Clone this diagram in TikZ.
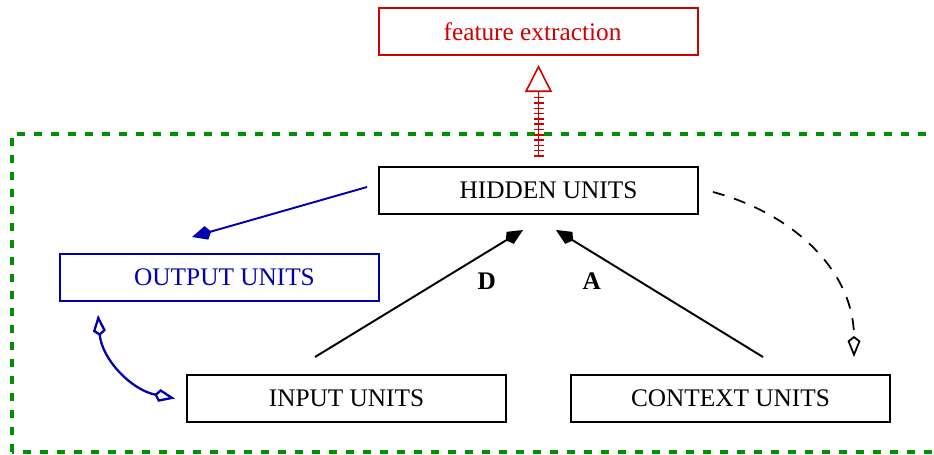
\documentclass[tikz,border=0pt]{standalone}
\usepackage{fontspec}
\setmainfont{Liberation Serif}
\usetikzlibrary{arrows.meta,positioning,decorations.markings}
\definecolor{featclr}{RGB}{208,0,0}
\definecolor{outclr}{RGB}{0,0,176}
\definecolor{grpclr}{RGB}{0,144,0}
\definecolor{unitclr}{RGB}{0,0,0}
\tikzset{
  ublk/.style={rectangle,draw=unitclr,line width=0.9pt,fill=white,
    minimum width=6.38cm,minimum height=0.94cm,inner sep=0pt,outer sep=0pt,
    font=\fontsize{14.4}{16}\selectfont,align=center},
  oblk/.style={ublk,draw=outclr,text=outclr},
  fblk/.style={ublk,draw=featclr,text=featclr},
  grpbox/.style={draw=grpclr,line width=1.9pt,dash pattern=on 0.16cm off 0.18cm},
  arr/.style={-{Kite[length=0.4cm,width=0.28cm,inset=0.1cm]},line width=1.1pt},
  oarr/.style={-{Kite[open,length=0.42cm,width=0.26cm,inset=0.1cm]},line width=1pt},
  barr/.style={{Kite[open,length=0.42cm,width=0.26cm,inset=0.1cm]}-{Kite[open,length=0.42cm,width=0.26cm,inset=0.1cm]},
    line width=1.3pt,color=outclr},
  darr/.style={oarr,dash pattern=on 0.24cm off 0.2cm},
  tick/.style={-,draw=featclr,line width=0.9pt},
  tarr/.style={-{Triangle[open,length=0.54cm,width=0.54cm]},line width=0.9pt,color=featclr,
    postaction={decorate,decoration={markings,
      mark=between positions 0.02cm and 1.2cm step 0.106cm with {\draw[tick] (0,-0.1)--(0,0.1);}}}},
  lbl/.style={font=\fontsize{14.4}{16}\selectfont\bfseries},
}
\begin{document}
\begin{tikzpicture}[node distance=0.8cm]
  \useasboundingbox (0,0) rectangle (18.68,9.08);
  \draw[grpbox] (0.24,0.04) rectangle (19.4,6.4);

  \node[ublk] (hid) at (10.77,5.27) {\hspace*{0.4cm}HIDDEN UNITS};
  \node[fblk,above=2.24cm of hid] (feat) {feature extraction\hspace*{0.24cm}};
  \node[oblk,below left=0.8cm and 0cm of hid] (out) {\hspace*{0.2cm}OUTPUT UNITS};
  \node[ublk,below=3.22cm of hid,xshift=-3.84cm] (inp) {INPUT UNITS};
  \node[ublk,below=3.22cm of hid,xshift=3.84cm] (ctx) {CONTEXT UNITS};

  \draw[tarr] ([yshift=0.2cm]hid.north) -- ([yshift=-0.2cm]feat.south);
  \draw[arr,color=outclr] ([shift={(-0.24,0.07)}]hid.west) -- ([shift={(-0.55,0.34)}]out.north);
  \draw[arr] ([shift={(-0.63,0.36)}]inp.north) -- ([shift={(-0.31,-0.32)}]hid.south)
    node[lbl,pos=0.6,xshift=0.94cm]{D};
  \draw[arr] ([shift={(0.65,0.36)}]ctx.north) -- ([shift={(0.35,-0.32)}]hid.south)
    node[lbl,pos=0.6,xshift=-0.94cm]{A};
  \draw[darr] ([shift={(0.3,-0.03)}]hid.east) to[out=-15,in=90] ([shift={(-0.72,0.36)}]ctx.north east);
  \draw[barr] ([shift={(0.76,-0.28)}]out.south west) to[out=-85,in=169] ([xshift=-0.24cm]inp.west);
\end{tikzpicture}
\end{document}
